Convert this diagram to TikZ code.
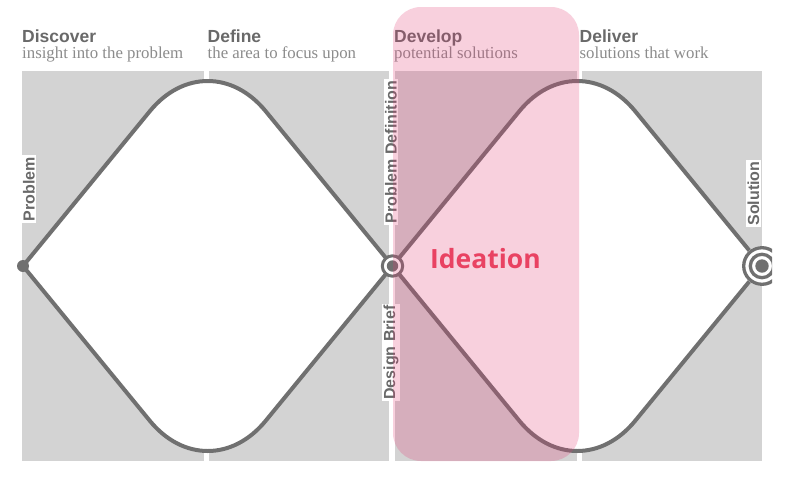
\documentclass[tikz,border=0pt]{standalone}
\usepackage{fontspec}
\setmainfont{Liberation Serif}
\newfontfamily\hsans{Liberation Sans}
\newfontfamily\ideafont{Open Sans}
\definecolor{panelgrey}{RGB}{211,211,211}
\definecolor{linegrey}{RGB}{112,112,112}
\definecolor{headgrey}{RGB}{105,105,105}
\definecolor{subgrey}{RGB}{140,140,140}
\definecolor{labelgrey}{RGB}{105,105,105}
\definecolor{pinkov}{RGB}{226,59,117}
\definecolor{ideared}{RGB}{233,66,98}
\begin{document}
\begin{tikzpicture}[x=1pt,y=-1pt,
  panel/.style={fill=panelgrey},
  curve/.style={draw=linegrey, line width=4pt},
  head/.style={anchor=base west, inner sep=0pt, text=headgrey, font=\hsans\bfseries\fontsize{17.5}{20}\selectfont},
  sub/.style={anchor=base west, inner sep=0pt, text=subgrey, font=\fontsize{16.8}{20}\selectfont},
  vlabel/.style={rotate=90, fill=white, inner sep=1.5pt, text=labelgrey, font=\hsans\bfseries\fontsize{16}{18}\selectfont},
  ring/.style={draw=linegrey, line width=3.3pt},
]
\useasboundingbox (0,0) rectangle (800,485);
\fill[white] (0,0) rectangle (800,485);

% grey panels
\fill[panel] (22,71) rectangle (204,461);
\fill[panel] (209,71) rectangle (389,461);
\fill[panel] (395,71) rectangle (577,461);
\fill[panel] (582,71) rectangle (762,461);

% key points
\coordinate (prob) at (23,266);
\coordinate (brief) at (392.5,266);
\coordinate (sol) at (762,266);

% diamond 1
\coordinate (a1) at (150,111);   \coordinate (a2) at (265.5,111);
\coordinate (ac1) at (183,71);   \coordinate (ac2) at (232.5,71);
\coordinate (b1) at (150,421);   \coordinate (b2) at (265.5,421);
\coordinate (bc1) at (183,461);  \coordinate (bc2) at (232.5,461);
% diamond 2
\coordinate (c1) at (519.5,111); \coordinate (c2) at (635,111);
\coordinate (cc1) at (552.5,71); \coordinate (cc2) at (602,71);
\coordinate (d1) at (519.5,421); \coordinate (d2) at (635,421);
\coordinate (dc1) at (552.5,461);\coordinate (dc2) at (602,461);

\fill[white] (prob) -- (a1) .. controls (ac1) and (ac2) .. (a2) -- (brief)
  -- (b2) .. controls (bc2) and (bc1) .. (b1) -- cycle;
\fill[white] (brief) -- (c1) .. controls (cc1) and (cc2) .. (c2) -- (sol)
  -- (d2) .. controls (dc2) and (dc1) .. (d1) -- cycle;

\draw[curve] (prob) -- (a1) .. controls (ac1) and (ac2) .. (a2) -- (brief);
\draw[curve] (prob) -- (b1) .. controls (bc1) and (bc2) .. (b2) -- (brief);
\draw[curve] (brief) -- (c1) .. controls (cc1) and (cc2) .. (c2) -- (sol);
\draw[curve] (brief) -- (d1) .. controls (dc1) and (dc2) .. (d2) -- (sol);

% vertical labels
\node[vlabel] (lprob) at (29,189) {Problem};
\node[vlabel] (lsol) at (753.5,193.5) {Solution};
\node[vlabel] (ldef) at (391,152) {Problem Definition};
\node[vlabel] (lbrief) at (391,352.5) {Design Brief};

% nodes
\fill[linegrey] (prob) circle (6pt);
\draw[fill=white, draw=linegrey, line width=3pt] (brief) circle (10.2pt);
\fill[linegrey] (brief) circle (5.7pt);
\begin{scope}
  \clip (730,230) rectangle (772,300);
  \fill[white] (sol) circle (20pt);
  \draw[ring] (sol) circle (18.3pt);
  \draw[ring] (sol) circle (11.7pt);
  \fill[linegrey] (sol) circle (6.7pt);
\end{scope}

% headers
\node[head] (h1) at (22,42.5) {Discover};
\node[sub] (s1) at (22,58.5) {insight into the problem};
\node[head] (h2) at (207.5,42.5) {Define};
\node[sub] (s2) at (207.5,58.5) {the area to focus upon};
\node[head] (h3) at (394,42.5) {Develop};
\node[sub] (s3) at (394,58.5) {potential solutions};
\node[head] (h4) at (579.5,42.5) {Deliver};
\node[sub] (s4) at (579.5,58.5) {solutions that work};

% pink overlay
\fill[pinkov, fill opacity=0.24, rounded corners=28pt] (393,7) rectangle (579,461);
\node[anchor=base, inner sep=0pt, text=ideared, font=\ideafont\bfseries\fontsize{26.5}{30}\selectfont] (idea) at (485.5,268) {Ideation};
\end{tikzpicture}
\end{document}
